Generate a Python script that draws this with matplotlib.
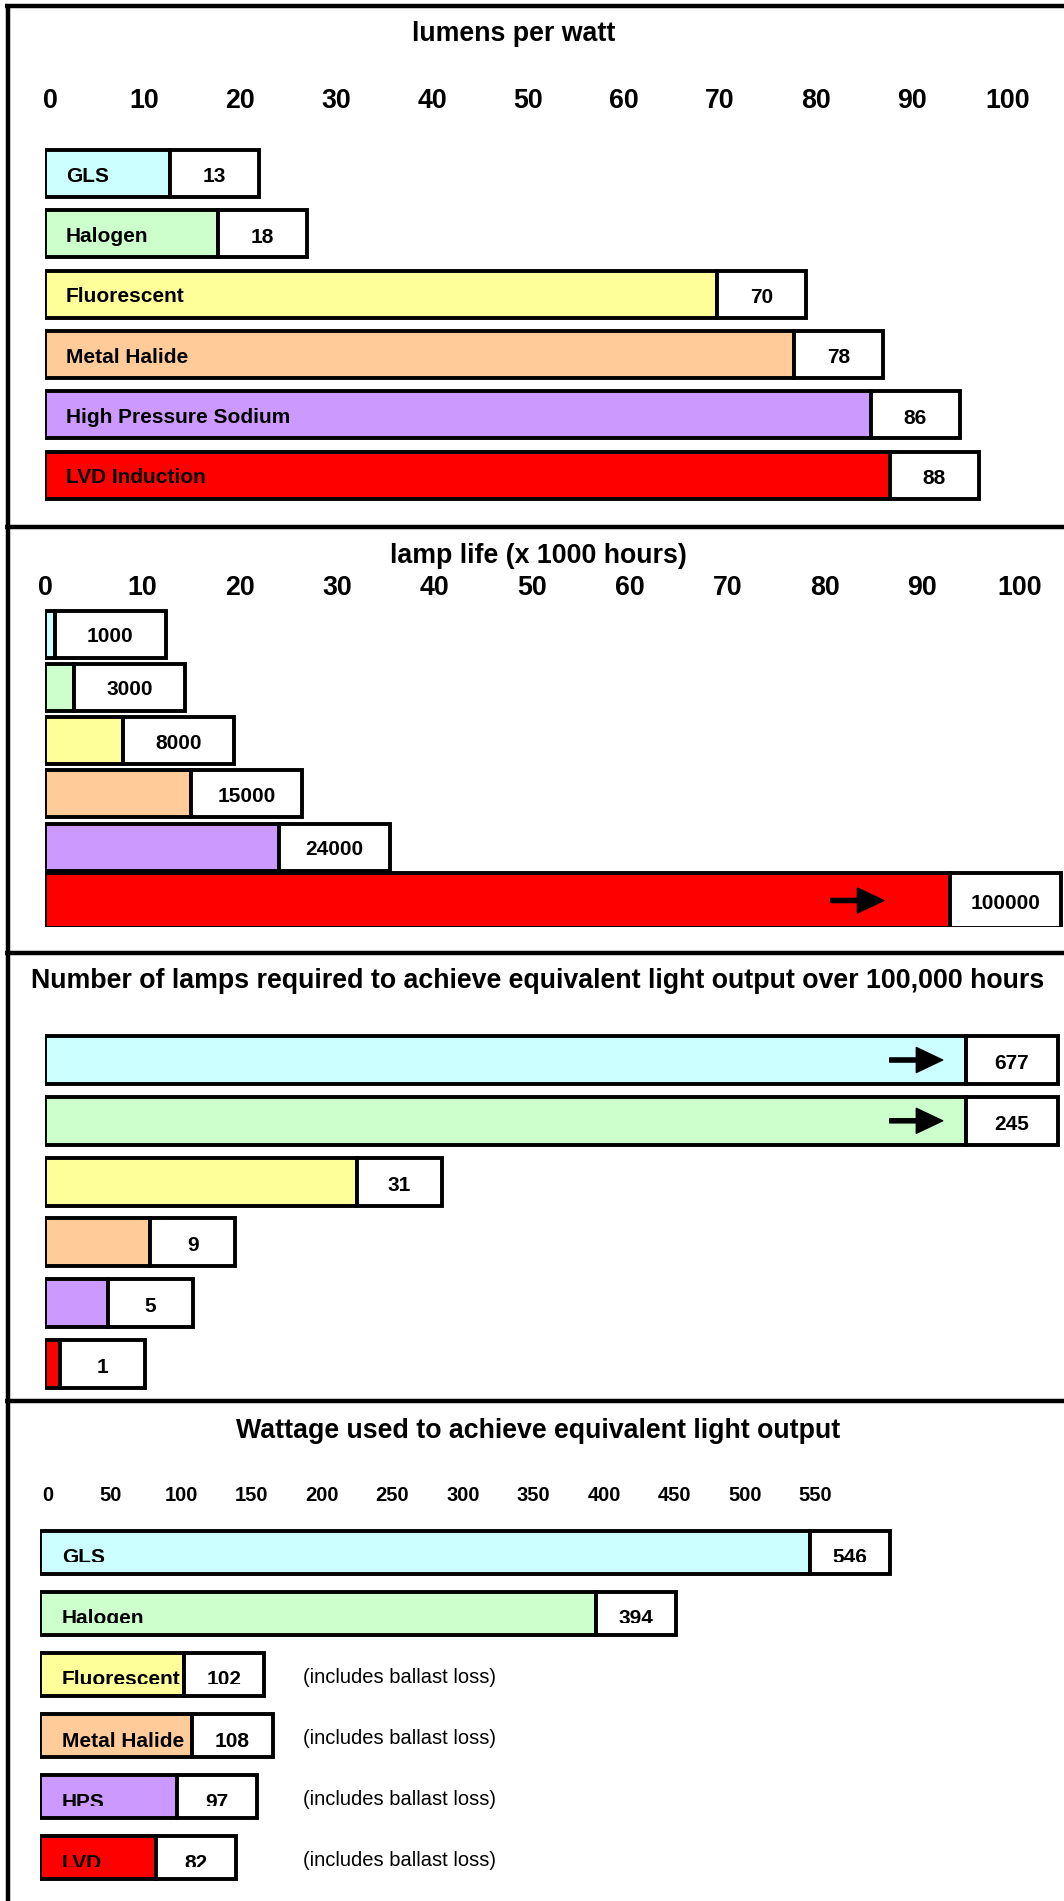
import matplotlib
matplotlib.use('Agg')
import matplotlib.pyplot as plt
import numpy as np
from matplotlib.transforms import ScaledTranslation, Bbox, TransformedBbox
from matplotlib.lines import Line2D

plt.rcParams['font.family'] = ['Liberation Sans', 'DejaVu Sans']

# ---------------- data ----------------
lamp_names = ['GLS', 'Halogen', 'Fluorescent', 'Metal Halide',
              'High Pressure Sodium', 'LVD Induction']
lamp_short = ['GLS', 'Halogen', 'Fluorescent', 'Metal Halide', 'HPS', 'LVD']
lumens_per_watt = [13, 18, 70, 78, 86, 88]
lamp_life_hours = [1000, 3000, 8000, 15000, 24000, 100000]
lamps_required = [677, 245, 31, 9, 5, 1]
wattage_used = [546, 394, 102, 108, 97, 82]
ballast_loss = [False, False, True, True, True, True]
ballast_text = '(includes ballast loss)'
colors = ['#CCFFFF', '#CCFFCC', '#FFFF99', '#FFCC99', '#CC99FF', '#FF0000']

title1 = 'lumens per watt'
title2 = 'lamp life (x 1000 hours)'
title3 = 'Number of lamps required to achieve equivalent light output over 100,000 hours'
title4 = 'Wattage used to achieve equivalent light output'
ticks_lpw = list(range(0, 101, 10))
ticks_life = list(range(0, 101, 10))
ticks_watt = list(range(0, 551, 50))

# ---------------- layout ----------------
W, H, DPI = 1064, 1901, 100
LW = 2.8
BORDER_LW = 3.2
TITLE_FS = 19.3
fig = plt.figure(figsize=(W / DPI, H / DPI), dpi=DPI)
fig.patch.set_facecolor('white')


def px_axes(left, top, width, height):
    return fig.add_axes([left / W, 1 - (top + height) / H, width / W, height / H])


def fline(x0, y0, x1, y1):
    fig.add_artist(Line2D([x0 / W, x1 / W], [1 - y0 / H, 1 - y1 / H],
                          transform=fig.transFigure, color='black',
                          lw=BORDER_LW, solid_capstyle='butt'))


def px_offset(dx_px, dy_px=0):
    return ScaledTranslation(dx_px / DPI, -dy_px / DPI, fig.dpi_scale_trans)


def shift(ax, dx_px, dy_px=0):
    return ax.transData + px_offset(dx_px, dy_px)


def setup(ax, xlim, n=6):
    ax.set_xlim(*xlim)
    ax.set_ylim(n - 0.5, -0.5)
    for s in ax.spines.values():
        s.set_visible(False)
    ax.set_yticks([])
    ax.patch.set_visible(False)


def top_ticks(ax, ticks, size, pad, dx_px=0, first_dx_px=0):
    ax.xaxis.tick_top()
    ax.set_xticks(ticks)
    ax.set_xticklabels([str(t) for t in ticks])
    ax.tick_params(axis='x', length=0, pad=pad, labelsize=size)
    for k, t in enumerate(ax.xaxis.get_majorticklabels()):
        t.set_fontweight('bold')
        extra = first_dx_px if k == 0 else 0
        t.set_transform(t.get_transform() + px_offset(dx_px + extra))


def arrow(ax, x, y, back_px, length_px=53):
    ax.annotate('', xy=(x, y), xycoords=shift(ax, -back_px),
                xytext=(-length_px * 72 / DPI, 0), textcoords='offset points',
                arrowprops=dict(width=3, headwidth=18, headlength=19,
                                facecolor='black', edgecolor='black', shrink=0))


# borders
fline(7.5, 4, 7.5, H)
fline(5, 6, W, 6)
for yb in (527.5, 953, 1401):
    fline(5, yb, W, yb)

# titles
fig.text(514 / W, 1 - 40.7 / H, title1, ha='center', va='baseline', fontsize=TITLE_FS, fontweight='bold')
fig.text(538 / W, 1 - 562.7 / H, title2, ha='center', va='baseline', fontsize=TITLE_FS, fontweight='bold')
fig.text(538 / W, 1 - 988.3 / H, title3, ha='center', va='baseline', fontsize=TITLE_FS, fontweight='bold')
fig.text(538 / W, 1 - 1438.3 / H, title4, ha='center', va='baseline', fontsize=TITLE_FS, fontweight='bold')

rows = np.arange(6)

# ---------------- panel 1: lumens per watt ----------------
S1, P1 = 9.6, 60.3
ax1 = px_axes(45, 173.5 - P1 / 2, 105 * S1, 6 * P1)
setup(ax1, (0, 105))
top_ticks(ax1, ticks_lpw, 19.3, 21.0, dx_px=3, first_dx_px=2)
BOX1 = 9.3
ax1.barh(rows, lumens_per_watt, height=47 / P1, color=colors, edgecolor='black', linewidth=LW)
ax1.barh(rows, BOX1, left=lumens_per_watt, height=47 / P1, color='white', edgecolor='black', linewidth=LW)
for i, (v, name) in enumerate(zip(lumens_per_watt, lamp_names)):
    ax1.text(0, i, name, transform=shift(ax1, 21, 8.3), ha='left', va='baseline',
             fontsize=15, fontweight='bold')
    ax1.text(v + BOX1 / 2, i, str(v), transform=shift(ax1, 0, 8.8), ha='center', va='baseline',
             fontsize=15, fontweight='bold')

# ---------------- panel 2: lamp life ----------------
S2, P2 = 9.75, 53.3
ax2 = px_axes(45, 634 - P2 / 2, 105 * S2, 6 * P2)
setup(ax2, (0, 105))
top_ticks(ax2, ticks_life, 19.3, 4.5)
CAP2 = 92.8
BOX2 = 11.4
life_k = [h / 1000 for h in lamp_life_hours]
life_disp = [min(v, CAP2) for v in life_k]
heights2 = [47 / P2] * 5 + [55 / P2]
for i in range(6):
    ax2.barh(i, life_disp[i], height=heights2[i], color=colors[i], edgecolor='black', linewidth=LW)
    ax2.barh(i, BOX2, left=life_disp[i], height=heights2[i], color='white', edgecolor='black', linewidth=LW)
    ax2.text(life_disp[i] + BOX2 / 2, i, str(lamp_life_hours[i]), transform=shift(ax2, 0, 8),
             ha='center', va='baseline', fontsize=15, fontweight='bold')
    if life_k[i] > CAP2:
        arrow(ax2, life_disp[i], i, 66)

# ---------------- panel 3: lamps required ----------------
PW = 0.88
K3, P3 = 15.2, 60.8
XMAX3 = 120
CAP3 = 106


def fwd(x):
    x = np.asarray(x, dtype=float)
    return np.sign(x) * np.abs(x) ** PW


def inv(x):
    x = np.asarray(x, dtype=float)
    return np.sign(x) * np.abs(x) ** (1 / PW)


ax3 = px_axes(45, 1060 - P3 / 2, K3 * float(fwd(XMAX3)), 6 * P3)
ax3.set_xscale('function', functions=(fwd, inv))
setup(ax3, (0, XMAX3))
ax3.set_xticks([])
ax3.xaxis.set_minor_locator(matplotlib.ticker.NullLocator())
for i, v in enumerate(lamps_required):
    d = min(v, CAP3)
    box_px = 92 if v > CAP3 else 85
    box_f = box_px / K3
    right = float(inv(fwd(d) + box_f))
    mid = float(inv(fwd(d) + box_f / 2))
    ax3.barh(i, d, height=48 / P3, color=colors[i], edgecolor='black', linewidth=LW)
    ax3.barh(i, right - d, left=d, height=48 / P3, color='white', edgecolor='black', linewidth=LW)
    ax3.text(mid, i, str(v), transform=shift(ax3, 0, 9), ha='center', va='baseline',
             fontsize=15, fontweight='bold')
    if v > CAP3:
        arrow(ax3, d, i, 23)

# ---------------- panel 4: wattage ----------------
S4, P4 = 1.41, 61.1
XMAX4 = 730
ax4 = px_axes(40, 1552 - P4 / 2, XMAX4 * S4, 6 * P4)
setup(ax4, (0, XMAX4))
top_ticks(ax4, ticks_watt, 14.5, 11.5, dx_px=0, first_dx_px=8)
BOX4 = 57
clipped = [True, True, True, False, True, True]
ax4.barh(rows, wattage_used, height=43 / P4, color=colors, edgecolor='black', linewidth=LW)
ax4.barh(rows, BOX4, left=wattage_used, height=43 / P4, color='white', edgecolor='black', linewidth=LW)
NOTE_X = 186.5
for i, (v, name) in enumerate(zip(wattage_used, lamp_short)):
    t1 = ax4.text(0, i, name, transform=shift(ax4, 22, 11.2), ha='left', va='baseline',
                  fontsize=15, fontweight='bold')
    t2 = ax4.text(v + BOX4 / 2, i, str(v), transform=shift(ax4, 0, 11.2), ha='center',
                  va='baseline', fontsize=15, fontweight='bold')
    if clipped[i]:
        cb = TransformedBbox(Bbox([[0, i - 0.5], [XMAX4, i + 9.7 / P4]]), ax4.transData)
        for t in (t1, t2):
            t.set_clip_box(cb)
            t.set_clip_on(True)
    if ballast_loss[i]:
        ax4.text(NOTE_X, i, ballast_text, transform=shift(ax4, 0, 8.5), ha='left',
                 va='baseline', fontsize=14.5)

fig.savefig('out.png', dpi=DPI, facecolor='white')
